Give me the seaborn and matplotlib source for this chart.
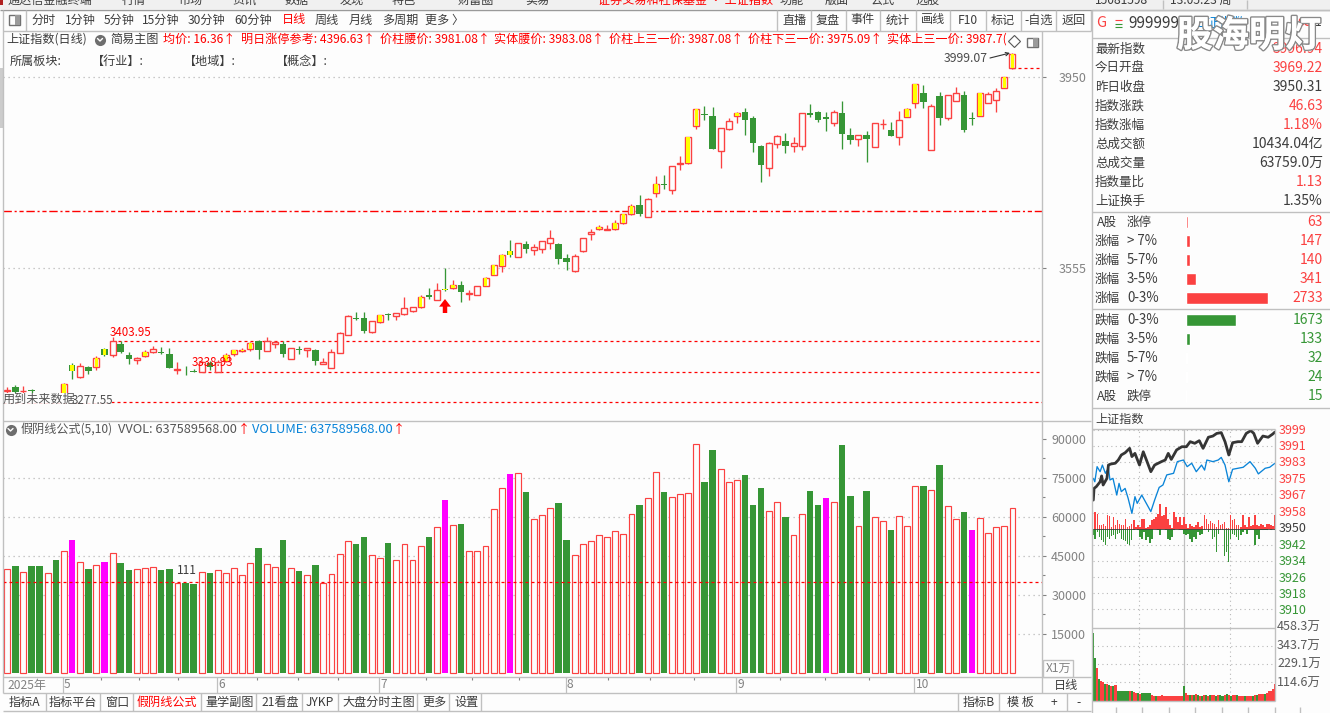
import matplotlib

matplotlib.use("Agg")
import matplotlib.patheffects as pe
import matplotlib.pyplot as plt
import numpy as np
import pandas as pd
import seaborn as sns
from matplotlib.patches import Rectangle

W, H = 1330, 713
BG = "#fdfdfd"
RED = "#fb4141"
GREEN = "#369636"
PURE_RED = "#ff0000"
MAGENTA = "#ff00ff"
YELLOW = "#ffff00"
DARK = "#3c3c3c"
GRAY = "#828282"
LINE = "#c0c0c0"
BLUE = "#0a84d8"

# daily candles, May to Oct 2025
# r hollow up, y hollow up + yellow core, g down, m down + yellow core, n down (fake yin volume)
kinds = (
    "rgrggrgymr" "gymrggryrg" "grggrgryyy" "ygrrgrgrgr" "rrrggrygrr"
    "rygrmygrry" "yymrgrrrgg" "rrryryyygr" "ygrryyggrr" "ygggrrgrrg"
    "gnrggrgrrg" "ryygrgrrgn" "yrryy"
)
opens = [
    3300, 3309, 3300, 3302, 3294, 3282, 3290, 3295, 3354, 3330,
    3351, 3350, 3387, 3374, 3398, 3376, 3365, 3372, 3381, 3381,
    3377, 3345, 3345, 3342, 3339, 3358, 3339, 3363, 3378, 3384,
    3388, 3403, 3384, 3397, 3398, 3367, 3386, 3386, 3385, 3357,
    3349, 3380, 3417, 3451, 3452, 3423, 3444, 3460, 3455, 3459,
    3467, 3474, 3499, 3489, 3511, 3513, 3520, 3501, 3500, 3518,
    3541, 3560, 3590, 3578, 3605, 3593, 3595, 3607, 3605, 3576,
    3549, 3590, 3626, 3636, 3634, 3636, 3647, 3667, 3685, 3660,
    3711, 3729, 3716, 3771, 3772, 3848, 3872, 3869, 3796, 3842,
    3869, 3877, 3865, 3807, 3761, 3811, 3818, 3807, 3807, 3875,
    3878, 3867, 3854, 3875, 3830, 3821, 3830, 3805, 3852, 3840,
    3826, 3868, 3897, 3917, 3800, 3911, 3866, 3900, 3913, 3866,
    3870, 3896, 3903, 3928, 3969.22,
]
highs = [
    3309, 3313, 3311, 3305, 3293, 3292, 3293, 3317, 3358, 3358,
    3352, 3372, 3389, 3412, 3403, 3381, 3371, 3385, 3394, 3391,
    3390, 3361, 3352, 3347, 3362, 3363, 3365, 3379, 3385, 3390,
    3402, 3406, 3412, 3405, 3403, 3389, 3394, 3389, 3387, 3369,
    3388, 3423, 3458, 3463, 3464, 3445, 3458, 3462, 3461, 3495,
    3474, 3499, 3514, 3524, 3555, 3530, 3528, 3510, 3517, 3536,
    3562, 3583, 3613, 3606, 3611, 3605, 3610, 3634, 3607, 3584,
    3584, 3618, 3636, 3643, 3644, 3654, 3667, 3687, 3706, 3699,
    3745, 3747, 3766, 3787, 3826, 3884, 3890, 3887, 3844, 3865,
    3877, 3885, 3869, 3809, 3816, 3831, 3834, 3826, 3875, 3894,
    3880, 3878, 3882, 3900, 3845, 3829, 3838, 3854, 3863, 3857,
    3880, 3886, 3935, 3933, 3894, 3919, 3912, 3929, 3921, 3878,
    3917, 3918, 3927, 3950, 3999.07,
]
lows = [
    3296, 3297, 3297, 3294, 3278, 3280, 3281, 3292, 3325, 3327,
    3336, 3345, 3372, 3370, 3379, 3356, 3356, 3370, 3380, 3378,
    3349, 3336, 3334, 3339, 3339, 3344, 3339, 3361, 3372, 3381,
    3384, 3367, 3383, 3390, 3371, 3367, 3377, 3371, 3355, 3357,
    3349, 3380, 3417, 3447, 3420, 3420, 3442, 3447, 3447, 3457,
    3464, 3473, 3491, 3489, 3507, 3511, 3485, 3489, 3500, 3518,
    3541, 3547, 3578, 3578, 3586, 3582, 3586, 3594, 3563, 3551,
    3547, 3588, 3613, 3634, 3634, 3634, 3646, 3665, 3663, 3660,
    3702, 3718, 3707, 3758, 3771, 3842, 3862, 3801, 3762, 3841,
    3855, 3830, 3795, 3733, 3746, 3804, 3793, 3795, 3798, 3868,
    3857, 3838, 3849, 3801, 3812, 3807, 3775, 3805, 3842, 3828,
    3809, 3868, 3886, 3886, 3800, 3851, 3860, 3900, 3837, 3851,
    3870, 3896, 3878, 3928, 3966,
]
closes = [
    3302, 3299, 3301, 3300, 3282, 3290, 3284, 3316, 3341, 3352,
    3342, 3369, 3374, 3403, 3382, 3367, 3369, 3381, 3387, 3380,
    3349, 3346, 3343, 3340, 3361, 3350, 3361, 3376, 3385, 3385,
    3399, 3385, 3403, 3402, 3377, 3389, 3385, 3389, 3363, 3360,
    3381, 3420, 3455, 3449, 3425, 3445, 3457, 3458, 3461, 3472,
    3474, 3496, 3494, 3509, 3509, 3519, 3505, 3503, 3517, 3534,
    3561, 3581, 3582, 3606, 3594, 3598, 3610, 3616, 3574, 3567,
    3580, 3617, 3630, 3640, 3635, 3647, 3666, 3683, 3667, 3697,
    3728, 3727, 3765, 3772, 3825, 3883, 3871, 3802, 3844, 3858,
    3875, 3860, 3814, 3767, 3813, 3827, 3808, 3813, 3875, 3872,
    3862, 3863, 3877, 3833, 3820, 3829, 3822, 3854, 3853, 3828,
    3862, 3883, 3935, 3899, 3890, 3866, 3912, 3916, 3841, 3864,
    3916, 3914, 3922, 3950, 3996.94,
]
# 万手
volumes = [
    40100, 41000, 39000, 41000, 41000, 38600, 43300, 47000, 51000, 42800,
    39900, 41700, 42600, 46300, 42200, 39500, 40100, 40500, 40900, 39500,
    39900, 34700, 34500, 34100, 39000, 38300, 39700, 38600, 40500, 37800,
    42400, 47900, 42000, 40900, 51000, 40500, 39100, 37800, 41400, 34700,
    38200, 45900, 50900, 49500, 52200, 45500, 44400, 49900, 43600, 49700,
    43600, 49000, 52200, 56300, 66400, 57000, 57200, 47000, 47000, 49000,
    63200, 71300, 76400, 77000, 69500, 59400, 60900, 63600, 65300, 51000,
    45500, 49700, 50900, 53200, 52400, 54700, 53600, 61300, 64500, 67400,
    77400, 69500, 67800, 69000, 69400, 88200, 73300, 85600, 78600, 73600,
    74400, 76000, 64500, 71000, 62400, 65900, 59900, 53200, 61300, 69900,
    64500, 67200, 65900, 87600, 67900, 56700, 69900, 60100, 58600, 54900,
    60500, 56700, 72000, 71800, 70500, 79900, 64400, 59400, 61800, 54900,
    59700, 54000, 56300, 56700, 63600,
]
month_labels = ["5", "6", "7", "8", "9", "10"]
month_ticks = [6.85, 25.9, 45.9, 68.9, 89.9, 111.9]
week_ticks = [11.6, 16.3, 21.1, 30.8, 35.9, 40.8, 51.6, 57.3, 63.1, 74.1, 79.3, 84.7, 95.3, 100.9, 106.3]

price_ticks = [3950, 3555]
volume_ticks = [15000, 30000, 45000, 60000, 75000, 90000]
high_mark, mid_mark, low_mark = 3403.95, 3338.93, 3277.55
dashdot_level = 3673
volume_level = 35000

# intraday panel
minute_t = [
    0, 1, 4, 9, 11, 13, 18, 20, 23, 29, 33, 37, 42, 48, 51, 55, 61, 66, 71, 76, 81, 90, 95, 99, 103,
    110, 117, 123, 128, 134, 140, 145, 152, 158, 163, 169, 174, 179, 184, 191, 196, 202, 208, 212,
    217, 224, 231, 237, 240,
]
index_px = [
    3964.2, 3970, 3970.9, 3973.3, 3976.2, 3971.7, 3975, 3981.6, 3982.1, 3982.5, 3984.1, 3986.6, 3987.7,
    3989.9, 3985.8, 3987.4, 3981.6, 3988.2, 3983.3, 3978.3, 3981.6, 3983.3, 3984.1, 3987.4, 3984.4,
    3989.1, 3990.7, 3990.7, 3993.2, 3992.4, 3993.7, 3989.9, 3995.4, 3996, 3997.3, 3997.7, 3993.2,
    3986.6, 3992.7, 3993.2, 3993.2, 3997.3, 3998.7, 3997.3, 3992.4, 3996, 3995.4, 3997, 3998,
]
leader_t = [
    0, 2, 5, 9, 12, 16, 20, 22, 26, 31, 34, 37, 42, 46, 51, 55, 58, 64, 70, 76, 81, 87, 92, 97, 106,
    111, 119, 124, 130, 136, 143, 147, 150, 158, 165, 169, 174, 179, 184, 191, 198, 207, 214, 218,
    227, 233, 240,
]
leader_px = [
    3975, 3973.3, 3980.8, 3978.3, 3981.6, 3977.5, 3980, 3974.2, 3975, 3966.7, 3972.5, 3968.4, 3970,
    3965.1, 3957.6, 3965.9, 3962.6, 3966.7, 3962.6, 3958.5, 3964.2, 3970.5, 3971.7, 3976.7, 3977.5,
    3983.3, 3984.1, 3980.8, 3982.5, 3978.3, 3981.6, 3979.1, 3984.1, 3983.3, 3984.1, 3985.4, 3981.6,
    3973.3, 3979.5, 3980, 3980.5, 3983.3, 3980, 3977.2, 3980, 3980.5, 3982.5,
]
tick_up = [
    0, 50, 45, 10, 12, 15, 8, 40, 38, 5, 35, 12, 25, 15, 10, 12, 30, 5, 8, 15, 25, 5, 10, 5, 30, 28, 3, 5, 10, 25,
    30, 35, 45, 75, 38, 40, 65, 30, 10, 3, 50, 35, 20, 35, 10, 35, 15, 3, 15, 8, 5, 12, 20, 5, 8, 40, 30, 15, 22, 18,
    14, 5, 25, 12, 15, 20, 3, 3, 40, 25, 30, 12, 10, 5, 40, 12, 6, 35, 8, 10, 40, 12, 8, 15, 10, 6, 15, 15, 10, 8, 40,
]
tick_down = [
    20, 30, 10, 25, 35, 40, 48, 25, 30, 22, 20, 30, 15, 12, 30, 35, 38, 45, 48, 35, 3, 0, 5, 25, 30, 10, 35, 25, 42, 30,
    0, 0, 3, 20, 0, 0, 3, 30, 35, 25, 3, 0, 0, 3, 5, 15, 20, 15, 30, 40, 25, 30, 10, 20, 15, 5, 0, 10, 3, 30,
    25, 70, 15, 3, 5, 80, 70, 100, 30, 15, 20, 25, 35, 20, 10, 3, 15, 5, 3, 5, 50, 20, 30, 3, 5, 3, 3, 0, 5, 0, 3,
]
minute_vol = [
    426, 270, 208, 135, 125, 114, 104, 104, 100, 94, 94, 100, 62, 62, 62, 62, 58, 58, 62, 62, 52, 46, 46, 42, 46, 46,
    46, 46, 46, 37, 31, 31, 31, 29, 33, 29, 27, 29, 27, 27, 27, 29, 27, 31, 29, 94, 46, 37, 37, 33, 33, 42, 33, 31, 29,
    33, 33, 31, 33, 33, 33, 31, 33, 33, 31, 33, 42, 33, 31, 33, 37, 33, 31, 31, 29, 29, 29, 29, 31, 31, 37, 33, 42, 42,
    42, 42, 46, 58, 62, 73, 104,
]
minute_dir = (
    "ggrgrrgrgr" "grggggggrg" "rrgrgggggr" "rgrrrrrrrr" "rrrrrgrrgr"
    "grgrgrgrgr" "rgrggrgrgr" "rgrrrgrrrg" "rgrrrgrrrrr"
)
minute_grid = [3999, 3991, 3983, 3975, 3967, 3958, 3950, 3942, 3934, 3926, 3918, 3910]
minute_vol_ticks = [114.6, 229.1, 343.7, 458.3]

# quote block
quote_names = ["最新指数", "今日开盘", "昨日收盘", "指数涨跌", "指数涨幅", "总成交额", "总成交量", "指数量比", "上证换手"]
quote_values = ["3996.94", "3969.22", "3950.31", "46.63", "1.18%", "10434.04亿", "63759.0万", "1.13", "1.35%"]
quote_colors = [RED, RED, DARK, RED, RED, DARK, DARK, RED, DARK]

up_names = ["A股 涨停", "涨幅 > 7%", "涨幅 5-7%", "涨幅 3-5%", "涨幅 0-3%"]
up_counts = [63, 147, 140, 341, 2733]
down_names = ["跌幅 0-3%", "跌幅 3-5%", "跌幅 5-7%", "跌幅 > 7%", "A股 跌停"]
down_counts = [1673, 133, 32, 24, 15]

menu_labels = ["通达信金融终端", "行情", "市场", "资讯", "数据", "发现", "特色", "财富圈", "实易",
               "证券交易和社保基金 · 上证指数", "功能", "版面", "公式", "选股", "15081598", "13:05:23 周"]
menu_xs = [8, 122, 178, 232, 285, 340, 392, 458, 525, 598, 780, 825, 870, 915, 1095, 1170]
period_labels = ["分时", "1分钟", "5分钟", "15分钟", "30分钟", "60分钟", "日线", "周线", "月线", "多周期", "更多 〉"]
period_xs = [31, 65, 104, 142, 188, 234, 282, 315, 349, 382, 425]
tool_labels = ["直播", "复盘", "事件", "统计", "画线", "F10", "标记", "-自选", "返回"]
tool_xs = [794.5, 828, 863, 897.5, 933, 968, 1003, 1038.5, 1074]
tool_seps = [777, 811, 846, 880, 916, 950, 986, 1021, 1056, 1091]
formula_labels = ["均价: 16.36↑", "明日涨停参考: 4396.63↑", "价柱腰价: 3981.08↑", "实体腰价: 3983.08↑",
                  "价柱上三一价: 3987.08↑", "价柱下三一价: 3975.09↑", "实体上三一价: 3987.7("]
formula_xs = [163, 241, 380, 494, 609, 748, 887]
sector_labels = ["所属板块:", "【行业】:", "【地域】:", "【概念】:"]
sector_xs = [10, 92, 184, 276]
tab_labels = ["指标A", "指标平台", "窗口", "假阴线公式", "量学副图", "21看盘", "JYKP", "大盘分时主图", "更多", "设置"]
tab_xs = [9, 49, 105, 137, 205, 261, 306, 342, 422, 454]
tab_seps = [46, 100, 133, 201, 256, 302, 338, 417, 449, 481]

sns.set_theme(style="white")
plt.rcParams["font.family"] = ["Noto Sans CJK SC", "DejaVu Sans"]
plt.rcParams["axes.unicode_minus"] = False

fig = plt.figure(figsize=(W / 100, H / 100), dpi=100, facecolor=BG)


def px_axes(x0, y0, x1, y1, zorder=2):
    ax = fig.add_axes([x0 / W, 1 - y1 / H, (x1 - x0) / W, (y1 - y0) / H], zorder=zorder)
    ax.patch.set_alpha(0)
    for side in ax.spines.values():
        side.set_visible(False)
    ax.grid(False)
    return ax


BAR_STEP = 8.107
xlim = ((3 - 7.2) / BAR_STEP, (1041.5 - 7.2) / BAR_STEP)
idx = np.arange(len(closes))

# main candle panel
main = px_axes(3, 32, 1041.5, 420)
main.set_xlim(*xlim)
main.set_ylim(3240.6, 4043)
main.hlines(price_ticks, *xlim, color="#b8b8b8", ls=(0, (1, 3)), lw=0.9, zorder=1)
main.hlines(dashdot_level, *xlim, color=PURE_RED, ls=(0, (6, 2, 1.5, 2, 3, 2)), lw=1.0, zorder=1)
main.hlines(high_mark, 13.7, xlim[1], color=PURE_RED, ls=(0, (2.4, 2.4)), lw=0.9, zorder=1)
main.hlines(mid_mark, 24, xlim[1], color=PURE_RED, ls=(0, (2.4, 2.4)), lw=0.9, zorder=1)
main.hlines(low_mark, xlim[0], xlim[1], color=PURE_RED, ls=(0, (2.4, 2.4)), lw=0.9, zorder=1)
main.hlines(opens[-1], idx[-1], xlim[1], color=PURE_RED, ls=(0, (2.4, 2.4)), lw=0.9, zorder=1)

for i, k in enumerate(kinds):
    is_down = k in "gmn"
    color = GREEN if is_down else RED
    top, bot = max(opens[i], closes[i]), min(opens[i], closes[i])
    main.vlines(i, lows[i], highs[i], color=color, lw=0.95, zorder=2)
    if is_down:
        main.bar(i, max(top - bot, 1.5), bottom=bot, width=0.8, color=color, lw=0, zorder=3)
    else:
        main.bar(i, top - bot, bottom=bot, width=0.74, facecolor=BG, edgecolor=color, lw=1.0, zorder=3)
    if k in "ym":
        main.bar(i, top - bot, bottom=bot, width=0.44, color=YELLOW, lw=0, zorder=4)

main.yaxis.tick_right()
main.set_yticks(price_ticks)
main.set_yticklabels([str(v) for v in price_ticks], color=GRAY, fontsize=9)
main.tick_params(axis="y", length=3, width=0.8, color=GRAY, pad=9, right=True)
main.set_xticks([])

# volume panel
vol_df = pd.DataFrame({
    "day": idx,
    "volume": volumes,
    "group": ["fake" if k in "mn" else "down" if k == "g" else "up" for k in kinds],
})
vol = px_axes(3, 422, 1041.5, 677)
vol.hlines(volume_ticks[:-1], *xlim, color="#b8b8b8", ls=(0, (1, 3)), lw=0.9, zorder=0)
sns.barplot(
    data=vol_df, x="day", y="volume", hue="group", hue_order=["up", "down", "fake"],
    palette={"up": BG, "down": GREEN, "fake": MAGENTA}, native_scale=True, dodge=False,
    width=0.8, saturation=1, errorbar=None, legend=False, ax=vol, zorder=2,
)
for bar in vol.containers[0]:
    bar.set(facecolor=BG, edgecolor=RED, linewidth=0.85, width=0.72)
    bar.set_x(bar.get_x() + 0.04)
for c in vol.containers[1:]:
    for bar in c:
        bar.set_linewidth(0)
vol.hlines(volume_level, *xlim, color=PURE_RED, ls=(0, (2.4, 2.4)), lw=0.9, zorder=4)
vol.set_xlim(*xlim)
vol.set_ylim(-1538, 96535)
vol.set_xlabel("")
vol.set_ylabel("")
vol.set_xticks([])
vol.yaxis.tick_right()
vol.set_yticks(volume_ticks)
vol.set_yticklabels([str(v) for v in volume_ticks], color=GRAY, fontsize=9)
vol.set_yticks([v + 7500 for v in volume_ticks[:-1]], minor=True)
vol.tick_params(axis="y", which="major", length=3, width=0.8, color=GRAY, pad=4, right=True)
vol.tick_params(axis="y", which="minor", length=2, width=0.8, color=GRAY, right=True)

# date strip
strip = px_axes(3, 677, 1041.5, 693)
strip.set_xlim(*xlim)
strip.set_ylim(1, 0)
strip.axis("off")
strip.vlines(month_ticks, 0, 1, color=LINE, lw=0.9)
strip.vlines(week_ticks, 0, 0.2, color=GRAY, lw=0.8)
for t, lab in zip(month_ticks, month_labels):
    strip.text(t + 0.15, 0.5, lab, color=GRAY, fontsize=8.6, va="center", ha="left")

# advance / decline bars
for names, counts, color, y0, y1 in [
    (up_names, up_counts, RED, 212.5, 307.5),
    (down_names, down_counts, GREEN, 310.5, 405.5),
]:
    ax = px_axes(1186, y0, 1286, y1)
    sns.barplot(x=counts, y=names, color=color, orient="h", width=0.58, saturation=1, errorbar=None, ax=ax)
    ax.set_xlim(0, 3333)
    ax.set_ylim(4.5, -0.5)
    ax.axis("off")

# intraday price panel
intra = px_axes(1093.3, 429, 1275, 628)
intra.set_xlim(0, 240)
intra.set_ylim(3900.7, 3999.5)
intra.hlines(minute_grid, 0, 240, color="#b8b8b8", ls=(0, (1, 3)), lw=0.8, zorder=0)
intra.vlines([60, 180], 3900.7, 3999.5, color="#b8b8b8", ls=(0, (1, 3)), lw=0.8, zorder=0)
intra.vlines(120, 3900.7, 3999.5, color=LINE, lw=0.9, zorder=0)
slots = np.arange(len(tick_up)) * 240 / 90
intra.bar(slots, np.array(tick_up) / 6, bottom=3950, width=2.2, color=RED, lw=0, zorder=2)
intra.bar(slots, -np.array(tick_down) / 6, bottom=3950, width=2.2, color=GREEN, lw=0, zorder=2)
intra.hlines(3950, 0, 240, color=DARK, lw=0.6, zorder=3)
sns.lineplot(x=leader_t, y=leader_px, estimator=None, sort=False, color=BLUE, lw=0.95, ax=intra, zorder=3)
sns.lineplot(x=minute_t, y=index_px, estimator=None, sort=False, color="#353535", lw=2.0, ax=intra, zorder=4)
intra.set_xlim(0, 240)
intra.set_ylim(3900.7, 3999.5)
intra.axis("off")

# intraday volume panel
mvol = px_axes(1093.3, 628, 1275, 700.5)
mvol.hlines(minute_vol_ticks[:-1], 0, 240, color="#b8b8b8", ls=(0, (1, 3)), lw=0.8, zorder=0)
mvol.vlines([60, 180], 0, 458.3, color="#b8b8b8", ls=(0, (1, 3)), lw=0.8, zorder=0)
mvol.vlines(120, 0, 458.3, color=LINE, lw=0.9, zorder=0)
mvol.bar(slots, minute_vol, width=240 / 90, color=[RED if d == "r" else GREEN for d in minute_dir], lw=0, zorder=2)
mvol.set_xlim(0, 240)
mvol.set_ylim(0, 458.3)
mvol.axis("off")

# chrome and text, drawn in picture pixels
ov = fig.add_axes([0, 0, 1, 1], zorder=10)
ov.set_xlim(0, W)
ov.set_ylim(H, 0)
ov.axis("off")
ov.patch.set_alpha(0)


def label(x, y, s, color=DARK, ha="left", size=8.7, **kw):
    ov.text(x, y, s, color=color, ha=ha, va="center", fontsize=size, **kw)


def hline(y, x0, x1, color=LINE, lw=1.0):
    ov.plot([x0, x1], [y, y], color=color, lw=lw, solid_capstyle="butt")


def vline(x, y0, y1, color=LINE, lw=1.0):
    ov.plot([x, x], [y0, y1], color=color, lw=lw, solid_capstyle="butt")


ov.add_patch(Rectangle((0, 0), W, 9, facecolor="#f0f0f0", lw=0, zorder=0))
ov.add_patch(Rectangle((0, 0), 3, 5, facecolor="#b02020", lw=0))
ov.add_patch(Rectangle((0, 68), 2.5, 60, facecolor="#cccccc", lw=0))
for x, s in zip(menu_xs, menu_labels):
    label(x, 0.5, s, color=PURE_RED if s.startswith("证券") else DARK, clip_on=True)
for x in [1163, 1247]:
    vline(x, 0, 9)

hline(9.5, 0, W, color="#9a9a9a")
hline(31, 3, 1091)
vline(3, 10, 693)
vline(1041.5, 31, 693)
vline(1091.5, 10, 713)
vline(26, 10, 31)
hline(421, 3, 1091)
hline(677, 3, 1091)
hline(693, 3, 1091)
hline(711, 3, 1091)
for x in tool_seps:
    vline(x, 10, 31)
for x in tab_seps + [957.5, 999]:
    vline(x, 693, 711)
vline(1066.8, 693, 711)

ov.add_patch(Rectangle((8.5, 15), 11, 10, facecolor="none", edgecolor="#707070", lw=1))
ov.add_patch(Rectangle((14.5, 15), 5, 10, facecolor="#9a9a9a", lw=0))
for x, s in zip(period_xs, period_labels):
    label(x, 20, s, color=PURE_RED if s == "日线" else DARK)
for x, s in zip(tool_xs, tool_labels):
    label(x, 20, s, ha="center")

label(6, 39.5, "上证指数(日线)")
ov.plot(100, 39.5, marker="o", ms=8, color="#6e6e6e", mew=0)
ov.plot([97.5, 100, 102.5], [38.5, 41, 38.5], color="white", lw=1)
label(110, 39.5, "简易主图")
for x, s in zip(formula_xs, formula_labels):
    label(x, 39.5, s, color=PURE_RED, clip_on=True)
ov.plot(1014, 41, marker="D", ms=6.5, mfc=BG, mec="#555555", mew=0.8)
ov.add_patch(Rectangle((1027, 38), 11, 9, facecolor="none", edgecolor="#707070", lw=1))
ov.add_patch(Rectangle((1033, 38), 5, 9, facecolor="#9a9a9a", lw=0))
for x, s in zip(sector_xs, sector_labels):
    label(x, 61, s)

# the warning text sits on its own background and hides the candles under it
ov.add_patch(Rectangle((3.5, 393), 108, 9.5, facecolor=BG, lw=0))
label(110, 332.5, "3403.95", color=PURE_RED, size=8.3)
label(192, 363, "3338.93", color=PURE_RED, size=8.3)
label(72, 401, "3277.55", color="#4f4f4f", size=8.3)
label(3, 399.5, "用到未来数据", color="#555555")
label(944, 58.5, "3999.07", color="#4a4a4a", size=8.8)
ov.annotate("", xy=(1010, 53), xytext=(990, 58),
            arrowprops=dict(arrowstyle="->", color="#333333", lw=0.8, shrinkA=0, shrinkB=0, mutation_scale=6))
ov.annotate("", xy=(445, 299), xytext=(445, 313),
            arrowprops=dict(facecolor=PURE_RED, edgecolor=PURE_RED, width=3.2, headwidth=8.5, headlength=5.5, lw=0, shrinkA=0, shrinkB=0))
label(177, 571, "111", color=DARK, size=8.6)

ov.plot(10.5, 429.5, marker="o", ms=8, color="#6e6e6e", mew=0)
ov.plot([8, 10.5, 13], [428.5, 431, 428.5], color="white", lw=1)
label(21, 429.5, "假阴线公式(5,10)", color="#555555")
label(118, 429.5, "VVOL: 637589568.00", color="#555555", size=9.2)
label(238, 429.5, "↑", color=PURE_RED)
label(252, 429.5, "VOLUME: 637589568.00", color=BLUE, size=9.3)
label(393, 429.5, "↑", color=PURE_RED)

label(7, 685.5, "2025年", color=GRAY)
for x, s in zip(tab_xs, tab_labels):
    label(x, 702.5, s, color=PURE_RED if s == "假阴线公式" else DARK)
label(963, 702.5, "指标B")
label(1007, 702.5, "模 板")
label(1054, 702.5, "+", ha="center")
label(1079, 702.5, "-", ha="center")
label(1066, 685.5, "日线", ha="center")
ov.add_patch(Rectangle((1043, 660), 30, 17, facecolor=BG, edgecolor=LINE, lw=1, zorder=3))
ov.text(1058, 668.5, "X1万", color=GRAY, ha="center", va="center", fontsize=8.6, zorder=4)

# right column
for y in [38, 212, 309, 408, 429, 628, 700.5]:
    hline(y, 1092, W if y < 410 else 1275)
hline(10, 1092, W)
vline(1275, 429, 700.5)
for x in [1116, 1142, 1169, 1195, 1222, 1248, 1275, 1300]:
    vline(x, 707, 713, color=LINE)

label(1101, 23, "G", color=RED, ha="center", size=10.5)
hline(20, 1115, 1122, color=RED, lw=0.8)
hline(23.5, 1115, 1122, color=GREEN, lw=0.8)
hline(27, 1115, 1122, color=GREEN, lw=0.8)
label(1128, 23, "999999", size=11)
label(1192, 23, "上证指数", color=BLUE, size=9.7)
label(1298, 23, "SG", color=RED, size=7.5, fontweight="bold")
label(1315, 23, "1", size=8.7)

for i, (name, value, color) in enumerate(zip(quote_names, quote_values, quote_colors)):
    y = 49 + i * 19
    label(1095, y, name, size=9)
    label(1323, y, value, color=color, ha="right", size=10)


def split_row(y, name, count, color):
    head, tail = name.split(" ", 1)
    label(1097 if head.startswith("A") else 1095, y, head, size=9)
    label(1127, y, tail, size=9.6 if tail[0] in "0123456789>" else 9)
    label(1323, y, str(count), color=color, ha="right", size=10)


for i, name in enumerate(up_names):
    split_row(222 + i * 19, name, up_counts[i], RED)
for i, name in enumerate(down_names):
    split_row(320 + i * 19, name, down_counts[i], GREEN)

label(1095, 419, "上证指数")
for i, v in enumerate(minute_grid):
    color = RED if v > 3950 else GREEN if v < 3950 else DARK
    label(1279, 430 + i * 16.45, str(v), color=color, size=9)
for i, v in enumerate(reversed(minute_vol_ticks)):
    label(1277, 627.5 + i * 18.5, f"{v}万", color="#5a5a5a", size=9)

ov.text(1249, 36, "股海明灯", color="white", fontsize=26, fontweight="bold", ha="center", va="center", zorder=20,
        path_effects=[pe.withStroke(linewidth=2.2, foreground="#8a8a8a"), pe.Normal()])

fig.savefig("out.png", dpi=100, facecolor=BG)
